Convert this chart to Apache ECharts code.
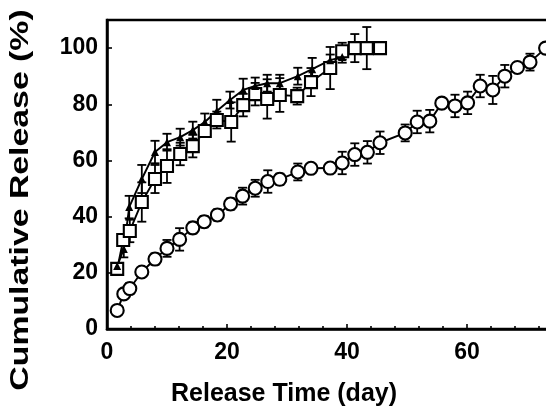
<!DOCTYPE html>
<html><head><meta charset="utf-8">
<script src="https://cdn.jsdelivr.net/npm/echarts@6/dist/echarts.min.js"></script>
<style>html,body{margin:0;padding:0;background:#fff}#c{width:546px;height:418px}</style>
</head><body><div id="c"></div>
<script>
// Data
const xTickLabels = [0, 20, 40, 60];
const yTickLabels = [0, 20, 40, 60, 80, 100];

const triDays = [1.7, 2.8, 3.7, 5.8, 8.0, 10.0, 12.2, 14.3, 16.3, 18.3, 20.5, 22.7, 24.7, 26.7, 28.8, 31.8, 34.2, 37.2, 39.2];
const triVals = [22.4, 28.5, 43.4, 53.4, 63.0, 66.5, 68.3, 70.8, 73.7, 77.6, 81.5, 85.1, 86.5, 87.5, 87.5, 90.0, 92.5, 95.7, 96.8];
const triErr  = [0, 3, 4, 5, 4, 3, 3, 3, 3, 4, 3, 4, 3, 3, 3, 3, 4, 2, 2];

const sqDays = [1.7, 2.7, 3.8, 5.8, 8.0, 10.0, 12.2, 14.3, 16.3, 18.3, 20.7, 22.7, 24.7, 26.7, 28.8, 31.7, 34.0, 37.2, 39.2, 41.3, 43.3, 45.5];
const sqVals = [21.4, 31.7, 34.9, 45.2, 53.4, 58.0, 62.3, 65.1, 70.5, 74.4, 73.7, 79.7, 83.6, 81.9, 83.3, 82.9, 87.9, 92.9, 98.9, 100, 100, 100];
const sqErr  = [2, 2, 4, 7, 5, 6, 4, 4, 2, 3, 7, 4, 4, 7, 6, 3, 5, 7.5, 3, 5, 7.5, 0];

const cirDays = [1.7, 2.8, 3.8, 5.8, 8.0, 10.0, 12.1, 14.3, 16.2, 18.4, 20.6, 22.6, 24.7, 26.8, 28.8, 31.8, 34.0, 37.2, 39.2, 41.3, 43.4, 45.5, 49.7, 51.7, 53.8, 55.8, 58.0, 60.1, 62.2, 64.3, 66.3, 68.4, 70.5, 73.1];
const cirVals = [6.6, 12.5, 14.4, 20.3, 24.9, 28.7, 31.9, 36.0, 38.2, 40.6, 44.5, 47.3, 50.1, 52.5, 53.3, 55.9, 57.2, 57.3, 59.1, 62.1, 62.9, 66.3, 69.8, 73.7, 74.0, 80.4, 79.4, 80.5, 86.5, 85.1, 90.0, 93.1, 95.0, 100];
const cirErr  = [0, 0, 2, 0, 2, 3, 4, 2, 2, 2, 2, 3, 3, 4, 2, 3, 0, 0, 4, 4, 4, 4, 3, 4, 4, 0, 4, 4, 4, 5, 4, 0, 3, 0];

const chart = echarts.init(document.getElementById('c'), null, {renderer: 'canvas'});
const FONT = '"Liberation Sans", Arial, sans-serif';

function pairs(d, v) { return d.map((x, i) => [x, v[i]]); }

function errSeries(days, vals, errs) {
  const data = [];
  days.forEach((d, i) => { if (errs[i] > 0) data.push([d, vals[i] - errs[i], vals[i] + errs[i]]); });
  return {
    type: 'custom', data, z: 1, silent: true,
    encode: {x: 0, y: [1, 2]},
    renderItem(params, api) {
      const x = api.value(0);
      const lo = api.coord([x, api.value(1)]);
      const hi = api.coord([x, api.value(2)]);
      const w = 4.5;
      const style = {stroke: '#000', lineWidth: 1.8, fill: null};
      return {type: 'group', children: [
        {type: 'line', shape: {x1: lo[0], y1: lo[1], x2: hi[0], y2: hi[1]}, style},
        {type: 'line', shape: {x1: lo[0] - w, y1: lo[1], x2: lo[0] + w, y2: lo[1]}, style},
        {type: 'line', shape: {x1: hi[0] - w, y1: hi[1], x2: hi[0] + w, y2: hi[1]}, style}
      ]};
    }
  };
}

function lineSeries(days, vals, symbol, size, filled) {
  return {
    type: 'line', data: pairs(days, vals), z: 3,
    symbol, symbolSize: size, showAllSymbol: true, animation: false,
    lineStyle: {color: '#000', width: 1.9},
    itemStyle: {color: filled ? '#000' : '#fff', borderColor: '#000', borderWidth: filled ? 0 : 2.1},
    emphasis: {disabled: true}
  };
}

chart.setOption({
  animation: false,
  backgroundColor: '#fff',
  grid: {left: 107, top: 20, width: 480, height: 309, outerBoundsMode: 'none', containLabel: false,
    show: true, borderColor: '#000', borderWidth: 2.5, backgroundColor: 'transparent'},
  xAxis: {
    type: 'value', min: 0, max: 80, interval: 20,
    axisLine: {show: true, lineStyle: {color: '#000', width: 2.5}},
    axisTick: {show: true, inside: true, length: 5, lineStyle: {color: '#000', width: 1.6}},
    minorTick: {show: true, splitNumber: 5, length: 3, lineStyle: {color: '#000', width: 1.6}},
    splitLine: {show: false},
    axisLabel: {color: '#000', fontFamily: FONT, fontWeight: 'bold', fontSize: 23, margin: 12,
      formatter: v => xTickLabels.includes(v) ? String(v) : ''}
  },
  yAxis: {
    type: 'value', min: 0, max: 110, interval: 20,
    axisLine: {show: true, lineStyle: {color: '#000', width: 2.5}},
    axisTick: {show: true, inside: true, length: 5, lineStyle: {color: '#000', width: 1.6}},
    splitLine: {show: false},
    axisLabel: {color: '#000', fontFamily: FONT, fontWeight: 'bold', fontSize: 23, margin: 9,
      formatter: v => yTickLabels.includes(v) ? String(v) : ''}
  },
  graphic: [
    {type: 'text', x: 284, y: 394,
      style: {text: 'Release Time (day)', font: 'bold 25px ' + FONT, fill: '#000', textAlign: 'center', textVerticalAlign: 'middle'}},
    {type: 'text', x: 21, y: 200, rotation: Math.PI / 2, scaleX: 1.3,
      style: {text: 'Cumulative Release (%)', font: 'bold 26px ' + FONT, fill: '#000', textAlign: 'center', textVerticalAlign: 'middle'}}
  ],
  series: [
    errSeries(cirDays, cirVals, cirErr),
    errSeries(sqDays, sqVals, sqErr),
    errSeries(triDays, triVals, triErr),
    lineSeries(cirDays, cirVals, 'circle', 13, false),
    lineSeries(sqDays, sqVals, 'rect', 12, false),
    lineSeries(triDays, triVals, 'triangle', 8, true)
  ]
});
</script>
</body></html>
